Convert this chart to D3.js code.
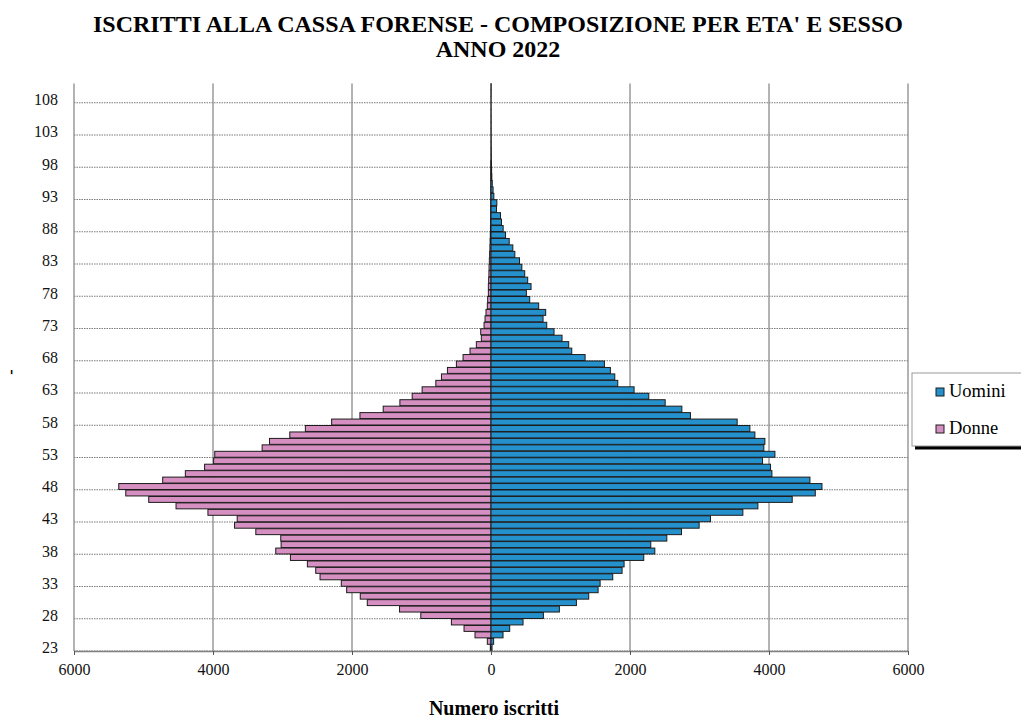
<!DOCTYPE html>
<html>
<head>
  <meta charset='utf-8'>
  <script src="https://d3js.org/d3.v7.min.js"></script>
  <style>
    body { margin: 0; background: #ffffff; }
    text { font-family: "Liberation Serif", "Times New Roman", serif; }
  </style>
</head>
<body>
  <div id="container"></div>
  <script type="text/javascript">

    // eta' 23 .. 110
    var ages = d3.range(23, 111);

    var donne = [10, 53, 230, 388, 570, 1010, 1316, 1780, 1881, 2077,
                 2154, 2460, 2522, 2642, 2886, 3097, 3020, 3025, 3384, 3690,
                 3652, 4073, 4532, 4925, 5255, 5356, 4724, 4398, 4121, 3991,
                 3975, 3293, 3187, 2895, 2671, 2293, 1886, 1551, 1311, 1134,
                 991, 794, 713, 627, 498, 402, 302, 211, 139, 148,
                 100, 86, 72, 53, 48, 38, 38, 34, 30, 28,
                 24, 20, 16, 13, 10, 8, 6, 5, 4, 3,
                 2, 2, 1, 1, 1, 1, 0, 0, 0, 0,
                 0, 0, 0, 0, 0, 0, 0, 0];

    var uomini = [15, 38, 173, 269, 461, 754, 984, 1229, 1406, 1541,
                  1570, 1752, 1886, 1915, 2198, 2357, 2299, 2530, 2741, 2995,
                  3158, 3624, 3840, 4334, 4666, 4762, 4589, 4042, 4022, 3907,
                  4085, 3926, 3941, 3797, 3725, 3542, 2870, 2746, 2506, 2270,
                  2059, 1824, 1781, 1718, 1632, 1354, 1162, 1118, 1022, 907,
                  802, 749, 787, 686, 557, 509, 576, 528, 485, 444,
                  410, 343, 314, 262, 209, 175, 151, 137, 79, 84,
                  41, 30, 18, 12, 9, 7, 5, 4, 3, 2,
                  2, 2, 2, 1, 1, 1, 2, 2];

    var age_ticks = [23, 28, 33, 38, 43, 48, 53, 58, 63, 68, 73, 78, 83, 88, 93, 98, 103, 108];
    var x_ticks = [-6000, -4000, -2000, 0, 2000, 4000, 6000];

    var serif = "'Liberation Serif', 'Times New Roman', serif";
    var W = 1021, H = 718;
    var svg = d3.select("#container").append("svg")
                .attr("width", W).attr("height", H);

    var x = d3.scaleLinear().domain([-6000, 6000]).range([74, 908]);
    var y = d3.scaleLinear().domain([22.5, 110.5]).range([651, 83.4]);

    // TITLE
    svg.append("text").attr("x", 498).attr("y", 32)
       .attr("text-anchor", "middle").attr("font-weight", "bold")
       .attr("font-size", 24).attr("textLength", 810).attr("lengthAdjust", "spacingAndGlyphs")
       .text("ISCRITTI ALLA CASSA FORENSE - COMPOSIZIONE PER ETA' E SESSO");
    svg.append("text").attr("x", 498).attr("y", 57)
       .attr("text-anchor", "middle").attr("font-weight", "bold")
       .attr("font-size", 24)
       .text("ANNO 2022");

    // GRID
    svg.append("g").selectAll("line").data(age_ticks).enter().append("line")
       .attr("x1", x(-6000)).attr("x2", x(6000))
       .attr("y1", function(d){ return y(d - 0.5); })
       .attr("y2", function(d){ return y(d - 0.5); })
       .attr("stroke", "#7a7a7a").attr("stroke-width", 1.2)
       .attr("stroke-dasharray", "1.5,1");

    svg.append("g").selectAll("line").data(x_ticks).enter().append("line")
       .attr("x1", function(d){ return x(d); }).attr("x2", function(d){ return x(d); })
       .attr("y1", y(110.5)).attr("y2", y(22.5))
       .attr("stroke", "#8a8a8a").attr("stroke-width", 1.3);

    // BARS
    var bar_h = function(a){ return y(a - 0.46) - y(a + 0.46); };

    svg.append("g").selectAll("rect").data(ages).enter().append("rect")
       .attr("x", function(d, i){ return x(-donne[i]); })
       .attr("y", function(d){ return y(d + 0.46); })
       .attr("width", function(d, i){ return x(0) - x(-donne[i]); })
       .attr("height", bar_h)
       .attr("fill", "#d68fc1").attr("stroke", "#1c1c1c").attr("stroke-width", 1);

    svg.append("g").selectAll("rect").data(ages).enter().append("rect")
       .attr("x", x(0))
       .attr("y", function(d){ return y(d + 0.46); })
       .attr("width", function(d, i){ return x(uomini[i]) - x(0); })
       .attr("height", bar_h)
       .attr("fill", "#2490cc").attr("stroke", "#1c1c1c").attr("stroke-width", 1);

    // AXES
    var x_axis = svg.append("g").attr("transform", "translate(0," + y(22.5) + ")")
       .call(d3.axisBottom(x).tickValues(x_ticks).tickSize(4).tickSizeOuter(0).tickPadding(9)
               .tickFormat(function(d){ return Math.abs(d); }))
       .attr("font-family", serif).attr("font-size", 16);
    x_axis.select(".domain").attr("stroke", "#808080").attr("stroke-width", 1.3);
    x_axis.selectAll(".tick line").attr("stroke", "#555");
    x_axis.selectAll("text").attr("fill", "#111");

    var y_axis = svg.append("g").attr("transform", "translate(" + x(-6000) + ",0)")
       .call(d3.axisLeft(y).tickValues(age_ticks).tickSize(0).tickPadding(16))
       .attr("font-family", serif).attr("font-size", 16);
    y_axis.select(".domain").remove();
    y_axis.selectAll("text").attr("fill", "#111");

    svg.append("text").attr("x", 494).attr("y", 715)
       .attr("text-anchor", "middle").attr("font-weight", "bold").attr("font-size", 20)
       .text("Numero iscritti");

    svg.append("text").attr("transform", "translate(16,372) rotate(-90)")
       .attr("text-anchor", "middle").attr("font-weight", "bold").attr("font-size", 16)
       .text("-");

    // LEGEND
    svg.append("rect").attr("x", 915).attr("y", 446).attr("width", 120).attr("height", 3.5)
       .attr("fill", "#000");
    svg.append("rect").attr("x", 912).attr("y", 373).attr("width", 120).attr("height", 73)
       .attr("fill", "#fff").attr("stroke", "#9a9a9a").attr("stroke-width", 1);

    var legend = [{name: "Uomini", color: "#2490cc"}, {name: "Donne", color: "#d68fc1"}];
    var lg = svg.append("g").selectAll("g").data(legend).enter().append("g")
       .attr("transform", function(d, i){ return "translate(936," + (388 + i * 37) + ")"; });
    lg.append("rect").attr("width", 8).attr("height", 8)
       .attr("fill", function(d){ return d.color; }).attr("stroke", "#1c1c1c").attr("stroke-width", 1);
    lg.append("text").attr("x", 13).attr("y", 9).attr("font-size", 18.5)
       .text(function(d){ return d.name; });

  </script>
</body>
</html>
